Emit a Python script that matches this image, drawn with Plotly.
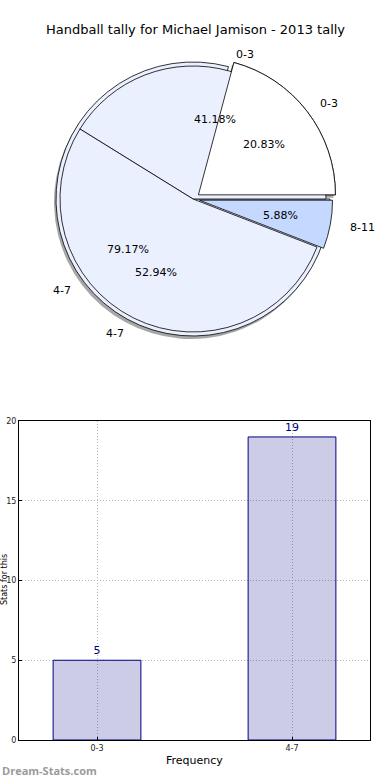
import math
import plotly.graph_objects as go

# ---- data ----
title = "Handball tally for Michael Jamison - 2013 tally"
pie_a_labels = ["0-3", "4-7"]
pie_a_values = [5, 19]
pie_b_labels = ["0-3", "4-7", "8-11"]
pie_b_values = [7, 9, 1]
bar_categories = ["0-3", "4-7"]
bar_values = [5, 19]
y_ticks = [0, 5, 10, 15, 20]

W, H = 390, 780
CX, CY, R = 193, 199, 137
MAXPULL = 0.05
PULL_A = [0.05, 0.0]
PULL_B = [0.0, 0.0, 0.05]
FONT = "DejaVu Sans"
LIGHT = "#EBF0FF"
BLUE = "#C5D8FF"


def domain_for(cx, cy, r):
    half = r * (1 + MAXPULL)
    return dict(x=[(cx - half) / W, (cx + half) / W],
                y=[1 - (cy + half) / H, 1 - (cy - half) / H])


def rot_for(values):
    # plotly counterclockwise: first slice lies clockwise of `rotation`;
    # make first slice start at 3 o'clock and go counterclockwise (matplotlib style)
    return 90 - 360 * values[0] / sum(values)


def px(x, y):
    return x / W, 1 - y / H


fig = go.Figure()
common = dict(sort=False, direction="counterclockwise", textinfo="none",
              showlegend=False)

# shadow
fig.add_trace(go.Pie(
    labels=pie_a_labels, values=pie_a_values, rotation=rot_for(pie_a_values),
    pull=PULL_A, marker=dict(colors=["#8a8a8a", "#8a8a8a"], line=dict(width=0)),
    hoverinfo="skip", domain=domain_for(CX - 2, CY + 3, R), opacity=0.75, **common))

# pie A (full, underneath)
fig.add_trace(go.Pie(
    labels=pie_a_labels, values=pie_a_values, rotation=rot_for(pie_a_values),
    pull=PULL_A, marker=dict(colors=["#FFFFFF", LIGHT],
                             line=dict(color="black", width=0.8)),
    hoverinfo="label+percent", domain=domain_for(CX, CY, R), **common))

# pie B (slightly smaller, on top)
fig.add_trace(go.Pie(
    labels=pie_b_labels, values=pie_b_values, rotation=rot_for(pie_b_values),
    pull=PULL_B, marker=dict(colors=[LIGHT, LIGHT, BLUE],
                             line=dict(color="black", width=0.8)),
    hoverinfo="label+percent", domain=domain_for(CX, CY, R - 4), **common))

# pie A again on top, only its first wedge visible
fig.add_trace(go.Pie(
    labels=pie_a_labels, values=pie_a_values, rotation=rot_for(pie_a_values),
    pull=PULL_A, marker=dict(colors=["#FFFFFF", "rgba(0,0,0,0)"],
                             line=dict(color=["black", "rgba(0,0,0,0)"], width=0.8)),
    hoverinfo="skip", domain=domain_for(CX, CY, R), **common))

annotations = []


def pie_texts(labels, values, pulls):
    total = sum(values)
    start = 0.0
    for lab, v, p in zip(labels, values, pulls):
        frac = v / total
        mid = math.radians((start + frac / 2) * 360)
        start += frac
        ox, oy = math.cos(mid), math.sin(mid)
        off = p * R
        lx = CX + (1.1 * R + off) * ox
        ly = CY - (1.1 * R + off) * oy
        x, y = px(lx, ly)
        annotations.append(dict(
            x=x, y=y, xref="paper", yref="paper", text=lab, showarrow=False,
            xanchor="left" if ox > 0 else "right", yanchor="middle",
            font=dict(family=FONT, size=11, color="black")))
        tx = CX + (0.6 * R + off) * ox
        ty = CY - (0.6 * R + off) * oy
        x, y = px(tx, ty)
        annotations.append(dict(
            x=x, y=y, xref="paper", yref="paper", text=f"{frac * 100:.2f}%",
            showarrow=False, xanchor="center", yanchor="middle",
            font=dict(family=FONT, size=11, color="black")))


pie_texts(pie_a_labels, pie_a_values, PULL_A)
pie_texts(pie_b_labels, pie_b_values, PULL_B)

# bar chart
fig.add_trace(go.Bar(
    x=bar_categories, y=bar_values, width=0.45,
    marker=dict(color="rgba(0,0,128,0.2)", line=dict(color="navy", width=1)),
    text=[str(v) for v in bar_values], textposition="outside",
    textfont=dict(family=FONT, size=11, color="navy"),
    cliponaxis=False, showlegend=False, xaxis="x", yaxis="y",
))

annotations.append(dict(
    x=0.5, y=px(0, 30)[1], xref="paper", yref="paper", text=title,
    showarrow=False, xanchor="center", yanchor="middle",
    font=dict(family=FONT, size=13, color="black")))
annotations.append(dict(
    x=px(194, 0)[0], y=px(0, 760)[1], xref="paper", yref="paper", text="Frequency",
    showarrow=False, xanchor="center", yanchor="middle",
    font=dict(family=FONT, size=11, color="black")))
annotations.append(dict(
    x=px(4, 0)[0], y=px(0, 580)[1], xref="paper", yref="paper", text="Stats for this",
    showarrow=False, xanchor="center", yanchor="middle", textangle=-90,
    font=dict(family=FONT, size=8, color="black")))
annotations.append(dict(
    x=0.0, y=px(0, 770)[1], xref="paper", yref="paper", text="<b>Dream-Stats.com</b>",
    showarrow=False, xanchor="left", yanchor="middle",
    font=dict(family="Open Sans", size=11, color="#9a9a9a")))

axis_common = dict(showgrid=True, gridcolor="#b4b4b4", griddash="1px,2px", gridwidth=1,
                   showline=True, linecolor="black", linewidth=1, mirror=True,
                   ticks="inside", ticklen=3, tickcolor="black", automargin=False,
                   tickfont=dict(family=FONT, size=8, color="#222"), zeroline=False)

fig.update_layout(
    width=W, height=H, margin=dict(l=0, r=0, t=0, b=0, autoexpand=False),
    paper_bgcolor="white", plot_bgcolor="white",
    annotations=annotations,
    xaxis=dict(domain=[19 / W, 370 / W], range=[-0.4, 1.4], type="category",
               **axis_common),
    yaxis=dict(domain=[1 - 740 / H, 1 - 421 / H], range=[0, 20], tickvals=y_ticks,
               **axis_common),
)

fig.write_html("out.html", config={"displayModeBar": False},
               post_script="document.body.style.margin='0';document.body.style.overflow='hidden';")
